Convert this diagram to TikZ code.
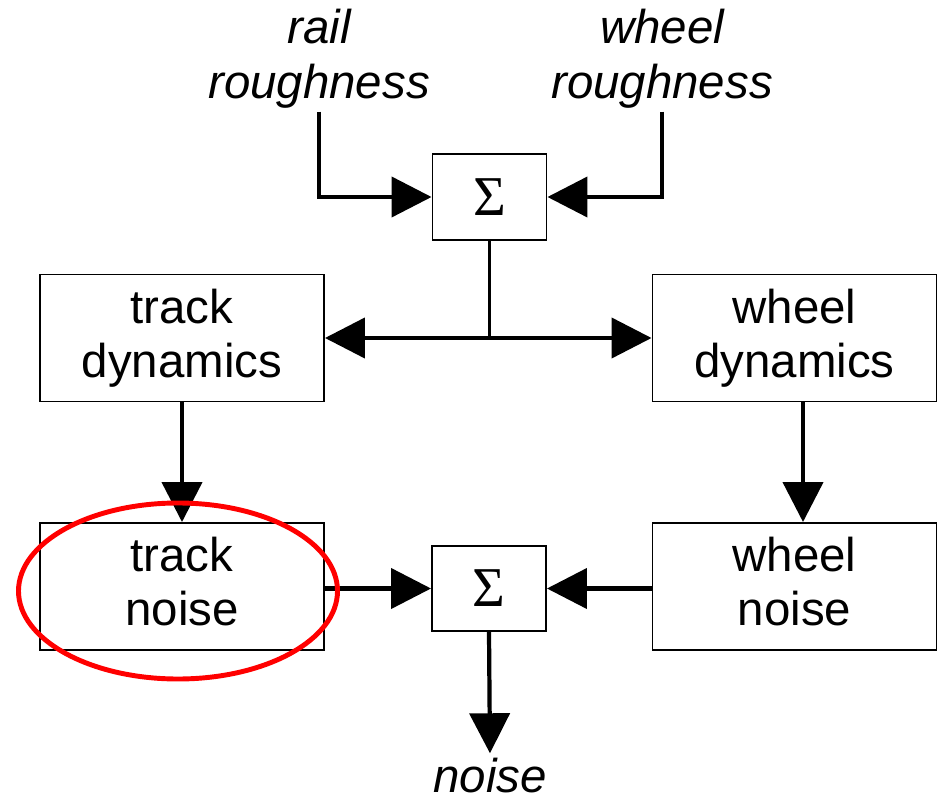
\documentclass[tikz,border=0pt]{standalone}
\usepackage{fontspec}
\setmainfont{Liberation Sans}
\newfontfamily\sigmafont{Liberation Serif}
\usetikzlibrary{arrows.meta}

\begin{document}
\begin{tikzpicture}[
    box/.style={draw, line width=1.1pt, inner sep=0pt, align=center,
      minimum width=5.68cm, minimum height=2.54cm,
      font=\fontsize{27pt}{30.5pt}\selectfont},
    sumbox/.style={draw, line width=1.1pt, inner sep=0pt,
      minimum width=2.28cm, minimum height=1.71cm,
      font=\sigmafont\fontsize{32pt}{32pt}\selectfont},
    lbl/.style={inner sep=2pt, align=center,
      font=\fontsize{27pt}{31pt}\selectfont\itshape},
    arr/.style={line width=2.4pt, -{Triangle[length=0.8cm,width=0.8cm]}}
  ]
  \useasboundingbox (0,0) rectangle (18.8,-16.06);
  % inputs
  \node [lbl] (rr) at (6.38,-1.17) {rail\\roughness};
  \node [lbl] (wr) at (13.24,-1.17) {wheel\\roughness};
  \node [sumbox] (s1) at (9.79,-3.94) {Σ};
  \draw [arr] (rr.south) |- (s1.west);
  \draw [arr] (wr.south) |- (s1.east);
  % dynamics
  \node [box] (td) at (3.64,-6.76) {track\\dynamics};
  \node [box] (wd) at (15.89,-6.76) {wheel\\dynamics};
  \coordinate (j) at (s1.south |- td.east);
  \draw [line width=2.2pt] (s1.south) -- (j);
  \draw [arr] (j) -- (td.east);
  \draw [arr] (j) -- (wd.west);
  % noise
  \node [box] (tn) at (3.64,-11.73) {track\\noise\vphantom{y}};
  \node [box] (wn) at (15.89,-11.73) {wheel\\noise\vphantom{y}};
  \node [sumbox] (s2) at (9.78,-11.77) {Σ};
  \node [lbl, inner sep=0pt, anchor=base] (ns) at (9.8,-15.84) {noise};
  \draw [arr, shorten >=0.08cm] (s2.south) -- (ns.north);
  \draw [arr] (td.south) -- (tn.north);
  \draw [arr] ([xshift=0.17cm]wd.south) -- ([xshift=0.17cm]wn.north);
  \draw [arr] (tn.east |- s2) -- (s2.west);
  \draw [arr] (wn.west |- s2) -- (s2.east);
  \draw [red, line width=2.8pt] ([shift={(-0.08,-0.09)}]tn.center) ellipse [x radius=3.19cm, y radius=1.76cm];
\end{tikzpicture}
\end{document}
